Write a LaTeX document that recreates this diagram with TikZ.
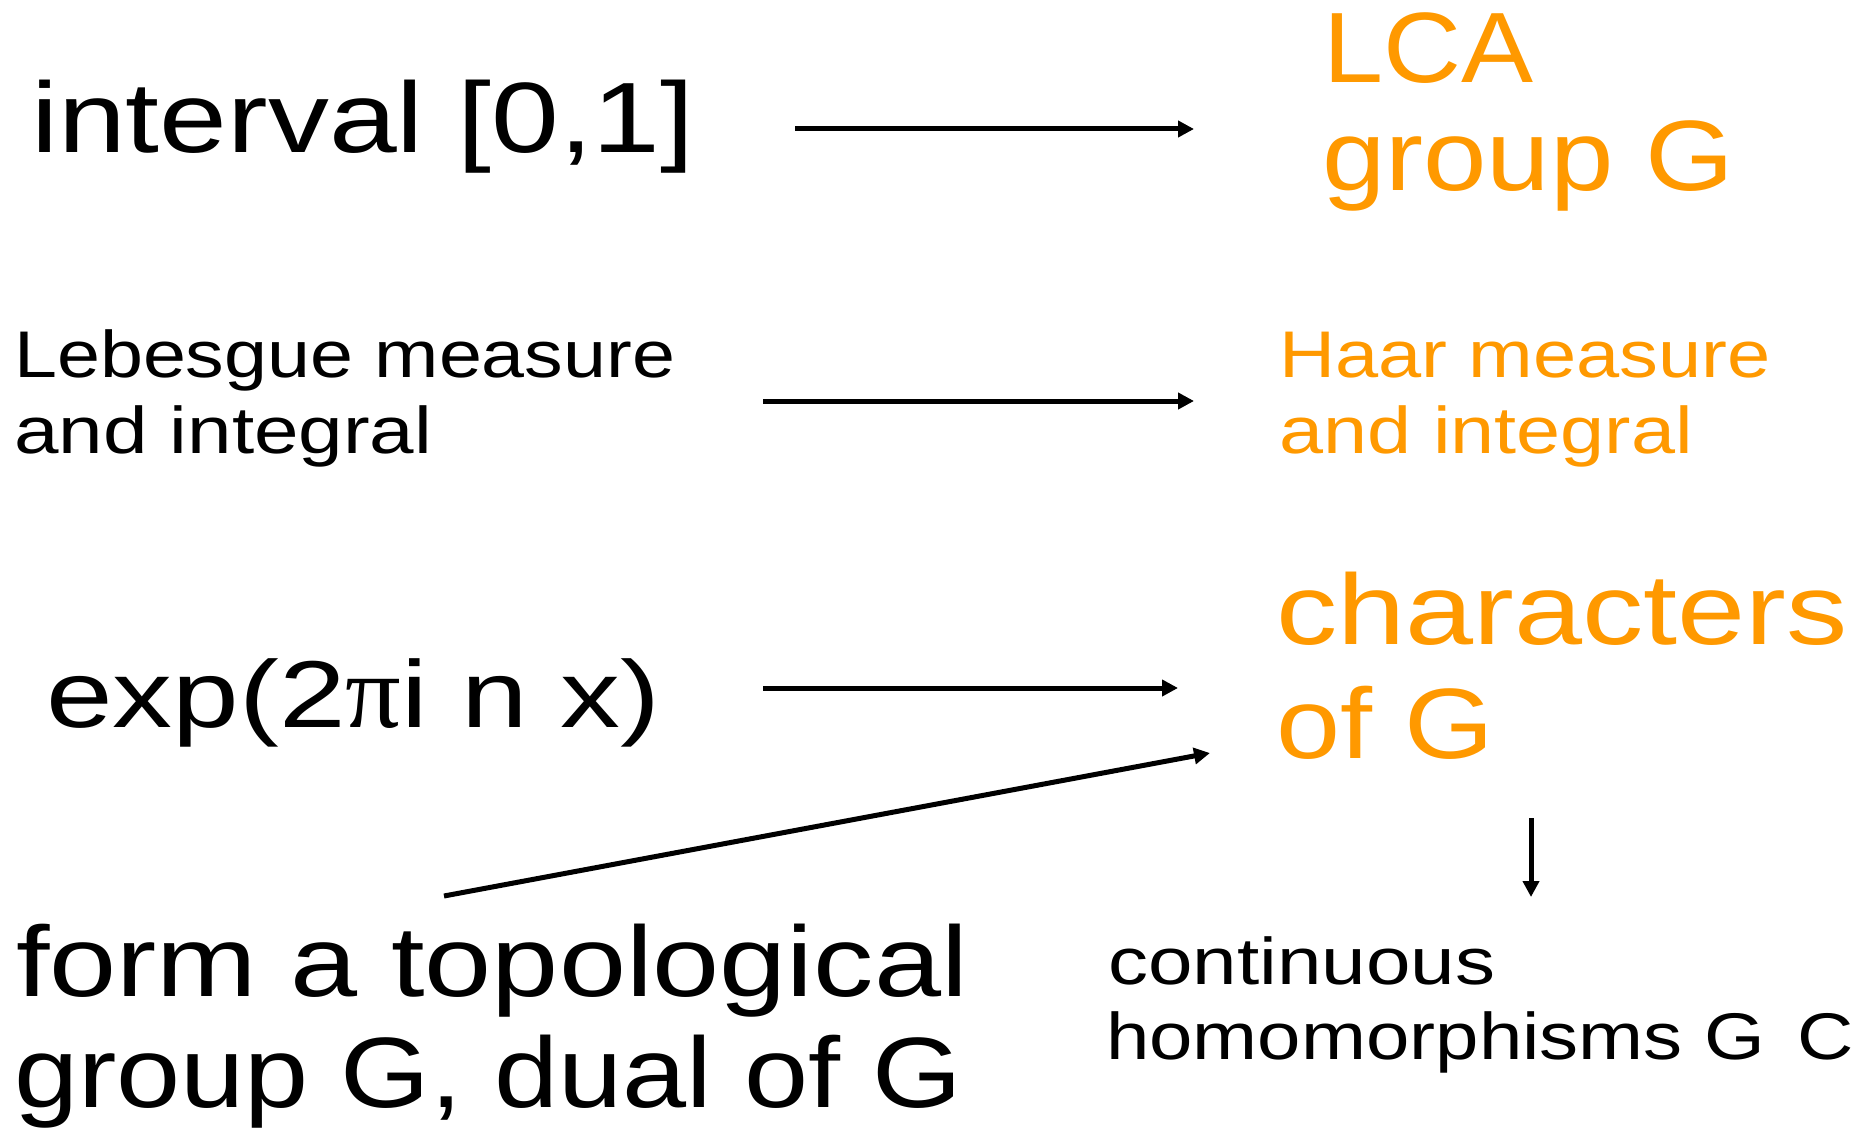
\documentclass[tikz,border=0pt]{standalone}
\usepackage{fontspec}
\setmainfont{Liberation Sans}[FakeStretch=1.2]
\newfontfamily\pifont{Liberation Serif}
\usetikzlibrary{arrows.meta}
\definecolor{lcaorange}{RGB}{255,153,0}
\tikzset{
  big/.style={anchor=base west, inner sep=0pt, font=\fontsize{100}{120}\selectfont},
  mid/.style={anchor=base west, inner sep=0pt, font=\fontsize{66}{80}\selectfont},
  orangetext/.style={text=lcaorange},
  arr/.style={-{Triangle[length=16pt,width=16pt]}, line width=5pt},
}
\begin{document}
\begin{tikzpicture}[x=1pt,y=-1pt]
\useasboundingbox[fill=white] (0,0) rectangle (1870,1131);
\node[big] (interval) at (31,153) {\scalebox{1.015}[1]{interval [0,1]}};
\node[big,orangetext] (lca) at (1323,83) {\scalebox{0.9}[1]{LCA}};
\node[big,orangetext] (groupG) at (1322,191) {\scalebox{0.95}[1]{group G}};
\node[mid] (leb1) at (14,377) {\scalebox{0.975}[1]{Lebesgue measure}};
\node[mid] (leb2) at (14,453) {\scalebox{1.01}[1]{and integral}};
\node[mid,orangetext] (haar1) at (1279,377) {\scalebox{0.98}[1]{Haar measure}};
\node[mid,orangetext] (haar2) at (1279,453) {and integral};
\node[big, font=\fontsize{95}{110}\selectfont] (exp) at (46,727) {\scalebox{1.05}[1]{exp(2{\pifont\fontsize{105}{110}\selectfont π}i n x)}};
\node[big,orangetext] (char1) at (1276,644) {\scalebox{1.02}[1]{characters}};
\node[big,orangetext] (char2) at (1276,758) {\scalebox{0.96}[1]{of G}};
\node[big] (form1) at (16,996) {\scalebox{1.005}[1]{form a topological}};
\node[big] (form2) at (14,1107) {\scalebox{0.96}[1]{group G, dual of G}};
\node[mid] (cont1) at (1108,984) {\scalebox{1.01}[1]{continuous}};
\node[mid] (cont2) at (1106,1059) {\scalebox{0.985}[1]{homomorphisms G\hspace{0.5em}C}};
\coordinate (a1s) at (795,129); \coordinate (a1e) at (1194,129);
\coordinate (a2s) at (763,401); \coordinate (a2e) at (1194,401);
\coordinate (a3s) at (763,688); \coordinate (a3e) at (1178,688);
\coordinate (a4s) at (444,896); \coordinate (a4e) at (1210,753);
\coordinate (a5s) at (1531,818); \coordinate (a5e) at (1531,897);
\draw[arr] (a1s) -- (a1e);
\draw[arr] (a2s) -- (a2e);
\draw[arr] (a3s) -- (a3e);
\draw[arr] (a4s) -- (a4e);
\draw[arr] (a5s) -- (a5e);
\end{tikzpicture}
\end{document}
